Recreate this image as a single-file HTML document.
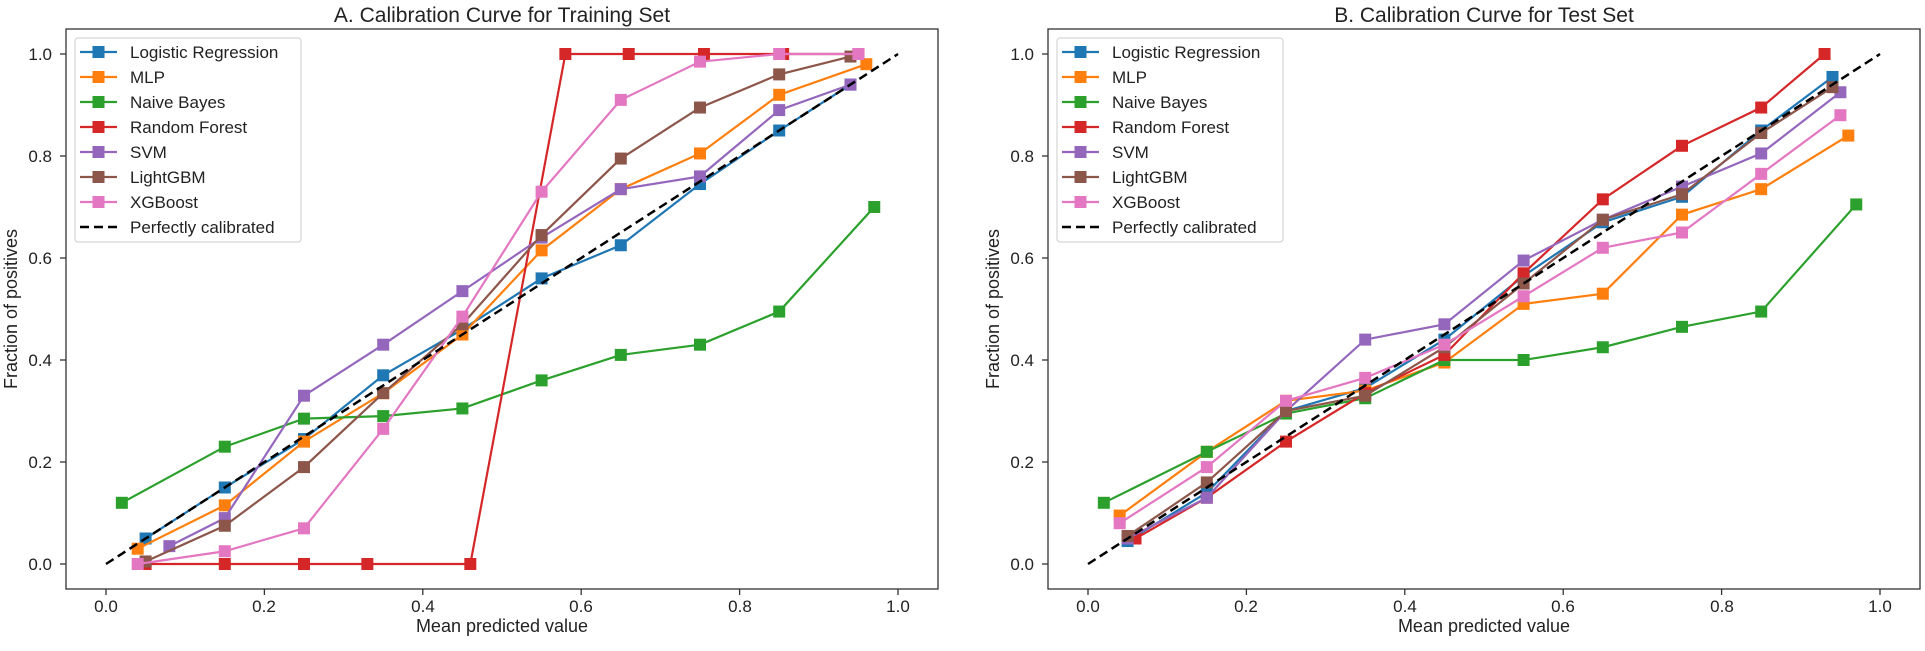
<!DOCTYPE html>
<html><head><meta charset="utf-8"><style>
body{margin:0;background:#fff}
svg text{font-family:"Liberation Sans","DejaVu Sans",sans-serif;fill:#222}
</style></head><body>
<svg id="s" width="1925" height="646" viewBox="0 0 1925 646" xmlns="http://www.w3.org/2000/svg">
<rect width="1925" height="646" fill="#fff"/>
<g id="plots"></g>
<text x="502" y="22" font-size="21" text-anchor="middle">A. Calibration Curve for Training Set</text>
<text x="1484" y="22" font-size="21" text-anchor="middle">B. Calibration Curve for Test Set</text>
<text x="502" y="632" font-size="18" text-anchor="middle">Mean predicted value</text>
<text x="1484" y="632" font-size="18" text-anchor="middle">Mean predicted value</text>
<text transform="translate(17,309) rotate(-90)" font-size="18" text-anchor="middle">Fraction of positives</text>
<text transform="translate(999,309) rotate(-90)" font-size="18" text-anchor="middle">Fraction of positives</text>
<g font-size="17" text-anchor="end">
<text x="52" y="570">0.0</text><text x="52" y="468">0.2</text><text x="52" y="366">0.4</text><text x="52" y="264">0.6</text><text x="52" y="162">0.8</text><text x="52" y="60">1.0</text>
<text x="1034" y="570">0.0</text><text x="1034" y="468">0.2</text><text x="1034" y="366">0.4</text><text x="1034" y="264">0.6</text><text x="1034" y="162">0.8</text><text x="1034" y="60">1.0</text>
</g>
<g font-size="17" text-anchor="middle">
<text x="106" y="612">0.0</text><text x="264" y="612">0.2</text><text x="423" y="612">0.4</text><text x="581" y="612">0.6</text><text x="740" y="612">0.8</text><text x="898" y="612">1.0</text>
<text x="1088" y="612">0.0</text><text x="1246" y="612">0.2</text><text x="1405" y="612">0.4</text><text x="1563" y="612">0.6</text><text x="1722" y="612">0.8</text><text x="1880" y="612">1.0</text>
</g>
<g font-size="17">
<g id="lg0"><text x="130" y="58">Logistic Regression</text><text x="130" y="83">MLP</text><text x="130" y="108">Naive Bayes</text><text x="130" y="133">Random Forest</text><text x="130" y="158">SVM</text><text x="130" y="183">LightGBM</text><text x="130" y="208">XGBoost</text><text x="130" y="233">Perfectly calibrated</text></g>
<g transform="translate(982,0)"><text x="130" y="58">Logistic Regression</text><text x="130" y="83">MLP</text><text x="130" y="108">Naive Bayes</text><text x="130" y="133">Random Forest</text><text x="130" y="158">SVM</text><text x="130" y="183">LightGBM</text><text x="130" y="208">XGBoost</text><text x="130" y="233">Perfectly calibrated</text></g>
</g>
</svg>
<script>
var C=['#1f77b4','#ff7f0e','#2ca02c','#d62728','#9467bd','#8c564b','#e377c2'];
var A=[
[[.05,.05],[.15,.15],[.25,.245],[.35,.37],[.45,.46],[.55,.56],[.65,.625],[.75,.745],[.85,.85],[.94,.94]],
[[.04,.03],[.15,.115],[.25,.24],[.35,.335],[.45,.45],[.55,.615],[.65,.735],[.75,.805],[.85,.92],[.96,.98]],
[[.02,.12],[.15,.23],[.25,.285],[.35,.29],[.45,.305],[.55,.36],[.65,.41],[.75,.43],[.85,.495],[.97,.70]],
[[.05,0],[.15,0],[.25,0],[.33,0],[.46,0],[.58,1],[.66,1],[.755,1],[.855,1],[.95,1]],
[[.08,.035],[.15,.09],[.25,.33],[.35,.43],[.45,.535],[.55,.64],[.65,.735],[.75,.76],[.85,.89],[.94,.94]],
[[.05,.005],[.15,.075],[.25,.19],[.35,.335],[.45,.47],[.55,.645],[.65,.795],[.75,.895],[.85,.96],[.94,.995]],
[[.04,0],[.15,.025],[.25,.07],[.35,.265],[.45,.485],[.55,.73],[.65,.91],[.75,.985],[.85,1],[.95,1]]];
var B=[
[[.05,.045],[.15,.14],[.25,.30],[.35,.345],[.45,.44],[.55,.565],[.65,.67],[.75,.72],[.85,.85],[.94,.955]],
[[.04,.095],[.15,.22],[.25,.32],[.35,.34],[.45,.395],[.55,.51],[.65,.53],[.75,.685],[.85,.735],[.96,.84]],
[[.02,.12],[.15,.22],[.25,.295],[.35,.325],[.45,.40],[.55,.40],[.65,.425],[.75,.465],[.85,.495],[.97,.705]],
[[.06,.05],[.15,.13],[.25,.24],[.35,.335],[.45,.41],[.55,.57],[.65,.715],[.75,.82],[.85,.895],[.93,1]],
[[.05,.05],[.15,.13],[.25,.30],[.35,.44],[.45,.47],[.55,.595],[.65,.675],[.75,.74],[.85,.805],[.95,.925]],
[[.05,.055],[.15,.16],[.25,.30],[.35,.33],[.45,.425],[.55,.55],[.65,.675],[.75,.725],[.85,.845],[.94,.935]],
[[.04,.08],[.15,.19],[.25,.32],[.35,.365],[.45,.43],[.55,.525],[.65,.62],[.75,.65],[.85,.765],[.95,.88]]];
var h='';
function plot(D,ox){
 function X(v){return ox+106+v*792} function Y(v){return 564-v*510}
 D.forEach(function(s,i){
  h+='<polyline fill="none" stroke="'+C[i]+'" stroke-width="2.2" points="'+s.map(function(p){return X(p[0])+','+Y(p[1])}).join(' ')+'"/>';
  s.forEach(function(p){h+='<rect x="'+(X(p[0])-6)+'" y="'+(Y(p[1])-6)+'" width="12" height="12" fill="'+C[i]+'"/>';});
 });
 h+='<line x1="'+X(0)+'" y1="'+Y(0)+'" x2="'+X(1)+'" y2="'+Y(1)+'" stroke="#000" stroke-width="2.5" stroke-dasharray="9,5"/>';
 h+='<rect x="'+(ox+66)+'" y="29" width="872" height="560" fill="none" stroke="#333" stroke-width="1.3"/>';
 for(var k=0;k<=5;k++){var t=k/5;h+='<line x1="'+X(t)+'" y1="589" x2="'+X(t)+'" y2="595" stroke="#333" stroke-width="1.3"/><line x1="'+(ox+60)+'" y1="'+Y(t)+'" x2="'+(ox+66)+'" y2="'+Y(t)+'" stroke="#333" stroke-width="1.3"/>';}
 h+='<rect x="'+(ox+75)+'" y="38" width="226" height="204" rx="3" fill="#fff" fill-opacity="0.85" stroke="#ccc"/>';
 for(var i=0;i<8;i++){var y=52+i*25;
  if(i<7){h+='<line x1="'+(ox+80)+'" y1="'+y+'" x2="'+(ox+117)+'" y2="'+y+'" stroke="'+C[i]+'" stroke-width="2.2"/><rect x="'+(ox+92.5)+'" y="'+(y-6)+'" width="12" height="12" fill="'+C[i]+'"/>';}
  else h+='<line x1="'+(ox+80)+'" y1="'+y+'" x2="'+(ox+117)+'" y2="'+y+'" stroke="#000" stroke-width="2.5" stroke-dasharray="9,5"/>';}
}
plot(A,0);plot(B,982);
document.getElementById('plots').innerHTML=h;
</script>
</body></html>
